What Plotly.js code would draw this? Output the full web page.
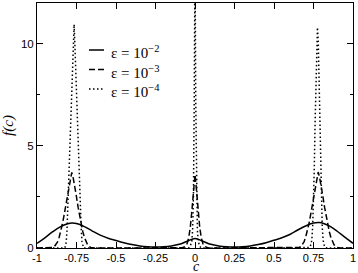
<!DOCTYPE html>
<html>
<head>
<meta charset="utf-8">
<script src="https://cdn.plot.ly/plotly-3.0.1.min.js"></script>
<style>html,body{margin:0;padding:0;background:#fff}#chart{width:358px;height:273px}</style>
</head>
<body>
<div id="chart"></div>
<script>
// eps = 1e-2 (solid)
const x_e2 = [-1,-0.95,-0.9,-0.85,-0.8,-0.78,-0.75,-0.7,-0.65,-0.6,-0.55,-0.5,-0.45,-0.4,-0.35,-0.3,-0.25,-0.2,-0.15,-0.1,-0.05,0,0.05,0.1,0.15,0.2,0.25,0.3,0.35,0.4,0.45,0.5,0.55,0.6,0.65,0.7,0.75,0.78,0.8,0.85,0.9,0.95,1];
const y_e2 = [0.23,0.5,0.8,1.05,1.2,1.22,1.2,1.05,0.83,0.63,0.48,0.37,0.26,0.17,0.1,0.06,0.05,0.06,0.1,0.18,0.33,0.47,0.33,0.18,0.1,0.06,0.05,0.06,0.1,0.17,0.26,0.38,0.5,0.66,0.88,1.08,1.22,1.25,1.24,1.08,0.82,0.52,0.23];
// eps = 1e-3 (dashed)
const x_e3 = [-1,-0.92,-0.9,-0.89,-0.88,-0.87,-0.86,-0.85,-0.84,-0.83,-0.82,-0.81,-0.8,-0.79,-0.78,-0.77,-0.76,-0.75,-0.74,-0.73,-0.72,-0.71,-0.7,-0.69,-0.68,-0.67,-0.66,-0.64,
  -0.1,-0.08,-0.06,-0.05,-0.04,-0.03,-0.02,-0.01,0,0.01,0.02,0.03,0.04,0.05,0.06,0.08,0.1,
  0.64,0.66,0.67,0.68,0.69,0.7,0.71,0.72,0.73,0.74,0.75,0.76,0.77,0.78,0.79,0.8,0.81,0.82,0.83,0.84,0.85,0.86,0.87,0.88,0.89,0.9,0.92,1];
const y_e3 = [0,0,0.03,0.07,0.16,0.3,0.52,0.8,1.15,1.55,2.0,2.5,3.0,3.4,3.7,3.4,3.0,2.5,2.0,1.55,1.15,0.8,0.52,0.3,0.16,0.07,0.03,0,
  0,0.01,0.08,0.22,0.5,1.0,1.8,2.8,3.6,2.8,1.8,1.0,0.5,0.22,0.08,0.01,0,
  0,0.03,0.07,0.16,0.3,0.52,0.8,1.15,1.55,2.0,2.5,3.0,3.4,3.72,3.4,3.0,2.5,2.0,1.55,1.15,0.8,0.52,0.3,0.16,0.07,0.03,0,0];
// eps = 1e-4 (dotted)
const x_e4 = [-1,-0.835,-0.825,-0.82,-0.815,-0.81,-0.805,-0.8,-0.795,-0.79,-0.785,-0.78,-0.775,-0.77,-0.765,-0.76,-0.755,-0.75,-0.745,-0.74,-0.735,-0.73,-0.725,-0.72,-0.715,-0.71,-0.705,-0.695,
  -0.04,-0.03,-0.02,-0.015,-0.01,-0.005,0,0.005,0.01,0.015,0.02,0.03,0.04,
  0.715,0.725,0.735,0.74,0.745,0.75,0.755,0.76,0.765,0.77,0.775,0.78,0.785,0.79,0.795,0.8,0.805,0.81,0.815,0.825,0.835,1];
const y_e4 = [0,0,0,0.08,0.3,0.9,2.0,3.2,4.4,5.4,6.4,7.5,8.7,9.9,10.95,9.9,8.7,7.5,6.4,5.4,4.4,3.2,2.0,0.9,0.3,0.08,0,0,
  0,0.08,0.35,0.9,2.5,7,14,7,2.5,0.9,0.35,0.08,0,
  0,0.02,0.18,0.47,1.09,2.19,3.89,6.08,8.37,10.13,10.8,10.13,8.37,6.08,3.89,2.19,1.09,0.47,0.18,0.02,0,0];

const seriesNames = ["ε = 10<sup>−2</sup>","ε = 10<sup>−3</sup>","ε = 10<sup>−4</sup>"];
const xTickVals = [-1,-0.75,-0.5,-0.25,0,0.25,0.5,0.75,1];
const xTickText = ["-1","-0.75","-0.5","-0.25","0","0.25","0.5","0.75","1"];
const yTickVals = [0,5,10];
const yTickText = ["0","5","10"];
const yMinorVals = [2.5,7.5];
const xTitle = "<i>c</i>";
const yTitle = "<i>f(c)</i>";

const W = 358, H = 273, M = {l:37, r:5, t:3, b:25};
const pw = W - M.l - M.r, ph = H - M.t - M.b;
const px2x = p => (p - M.l) / pw;
const px2y = p => (H - M.b - p) / ph;

const dashes = ["solid","6px,3px","1.5px,2.5px"];
const traces = [
  {x:x_e2, y:y_e2, mode:'lines', name:seriesNames[0], line:{color:'#000', width:1.5, shape:'spline', smoothing:1, dash:dashes[0]}},
  {x:x_e3, y:y_e3, mode:'lines', name:seriesNames[1], line:{color:'#000', width:1.5, dash:dashes[1]}},
  {x:x_e4, y:y_e4, mode:'lines', name:seriesNames[2], line:{color:'#000', width:1.5, dash:dashes[2]}}
];

const legRowsPx = [50, 69.5, 89];
const shapes = legRowsPx.map((py,i)=>({type:'line', xref:'paper', yref:'paper',
  x0:px2x(89), x1:px2x(104), y0:px2y(py), y1:px2y(py),
  line:{color:'#000', width:1.5, dash:dashes[i]}}));
const annotations = legRowsPx.map((py,i)=>({xref:'paper', yref:'paper', x:px2x(109), y:px2y(py+2),
  xanchor:'left', yanchor:'middle', showarrow:false, text:seriesNames[i],
  font:{family:'Liberation Serif', size:15, color:'#000'}}));
annotations.push({xref:'paper', yref:'paper', x:px2x(196), y:px2y(275), xanchor:'center', yanchor:'bottom',
  borderpad:0, showarrow:false, text:xTitle, font:{family:'Liberation Serif', size:14, color:'#000'}});

const layout = {
  width:W, height:H, margin:M, showlegend:false,
  paper_bgcolor:'#fff', plot_bgcolor:'#fff',
  font:{family:'Liberation Sans', size:11, color:'#000'},
  xaxis:{range:[-1,1], tickmode:'array', tickvals:xTickVals, ticktext:xTickText,
    ticks:'inside', ticklen:6, tickwidth:1, tickcolor:'#000', showline:true, linecolor:'#000', linewidth:1,
    mirror:'ticks', showgrid:false, zeroline:false, automargin:false,
    tickfont:{family:'Liberation Sans', size:11, color:'#000'}},
  yaxis:{range:[0,12], tickmode:'array', tickvals:yTickVals, ticktext:yTickText,
    ticks:'inside', ticklen:6, tickwidth:1, tickcolor:'#000', showline:true, linecolor:'#000', linewidth:1,
    mirror:'ticks', showgrid:false, zeroline:false, automargin:false,
    minor:{tickvals:yMinorVals, ticks:'inside', ticklen:3, tickcolor:'#000', showgrid:false},
    tickfont:{family:'Liberation Sans', size:11.5, color:'#000'},
    title:{text:yTitle, font:{family:'Liberation Serif', size:15, color:'#000'}, standoff:3}},
  shapes:shapes, annotations:annotations
};
Plotly.newPlot('chart', traces, layout, {staticPlot:true, displayModeBar:false});
</script>
</body>
</html>
